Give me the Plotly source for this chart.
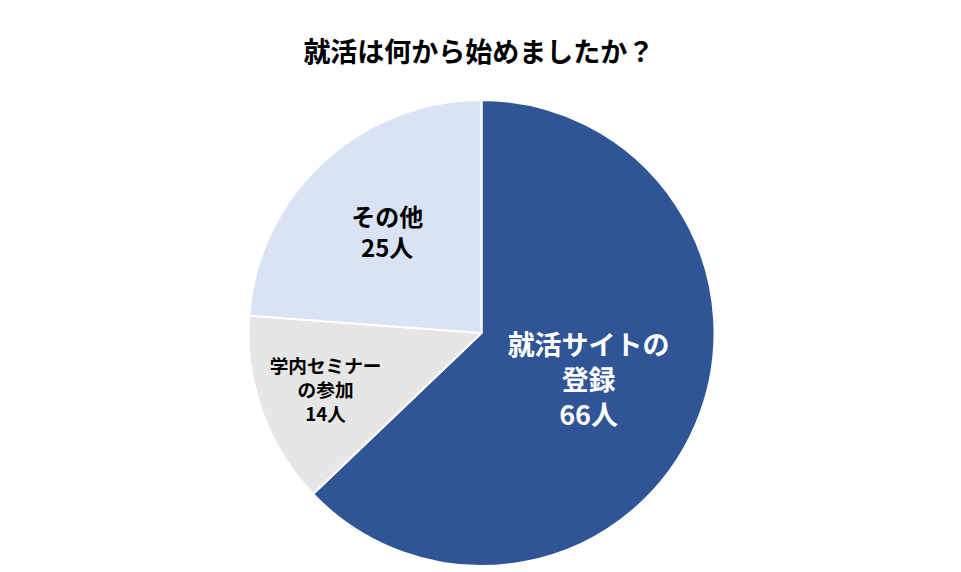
import plotly.graph_objects as go

labels = ["就活サイトの<br>登録", "学内セミナー<br>の参加", "その他"]
values = [66, 14, 25]
units = ["66人", "14人", "25人"]
colors = ["#2F5597", "#E7E6E6", "#DAE3F3"]

text = [f"<b>{l}<br>{u}</b>".replace("<br>", "</b><br><b>") for l, u in zip(labels, units)]

fig = go.Figure(go.Pie(
    values=values, text=text, textinfo="text", sort=False,
    direction="clockwise", rotation=0,
    marker=dict(colors=colors, line=dict(color="white", width=2)),
    textposition="inside", insidetextorientation="horizontal",
    textfont=dict(family="Noto Sans CJK JP", size=[27, 19, 24],
                  color=["white", "black", "black"]),
    hoverinfo="none",
))
fig.update_layout(
    width=961, height=572, showlegend=False,
    margin=dict(t=92, b=14, l=0, r=14),
    paper_bgcolor="white",
    title=dict(text="<b>就活は何から始めましたか？</b>", x=0.49, xanchor="center",
               y=0.922, yanchor="middle",
               font=dict(family="Noto Sans CJK JP", size=27, color="black")),
)
fig.write_html("out.html")
